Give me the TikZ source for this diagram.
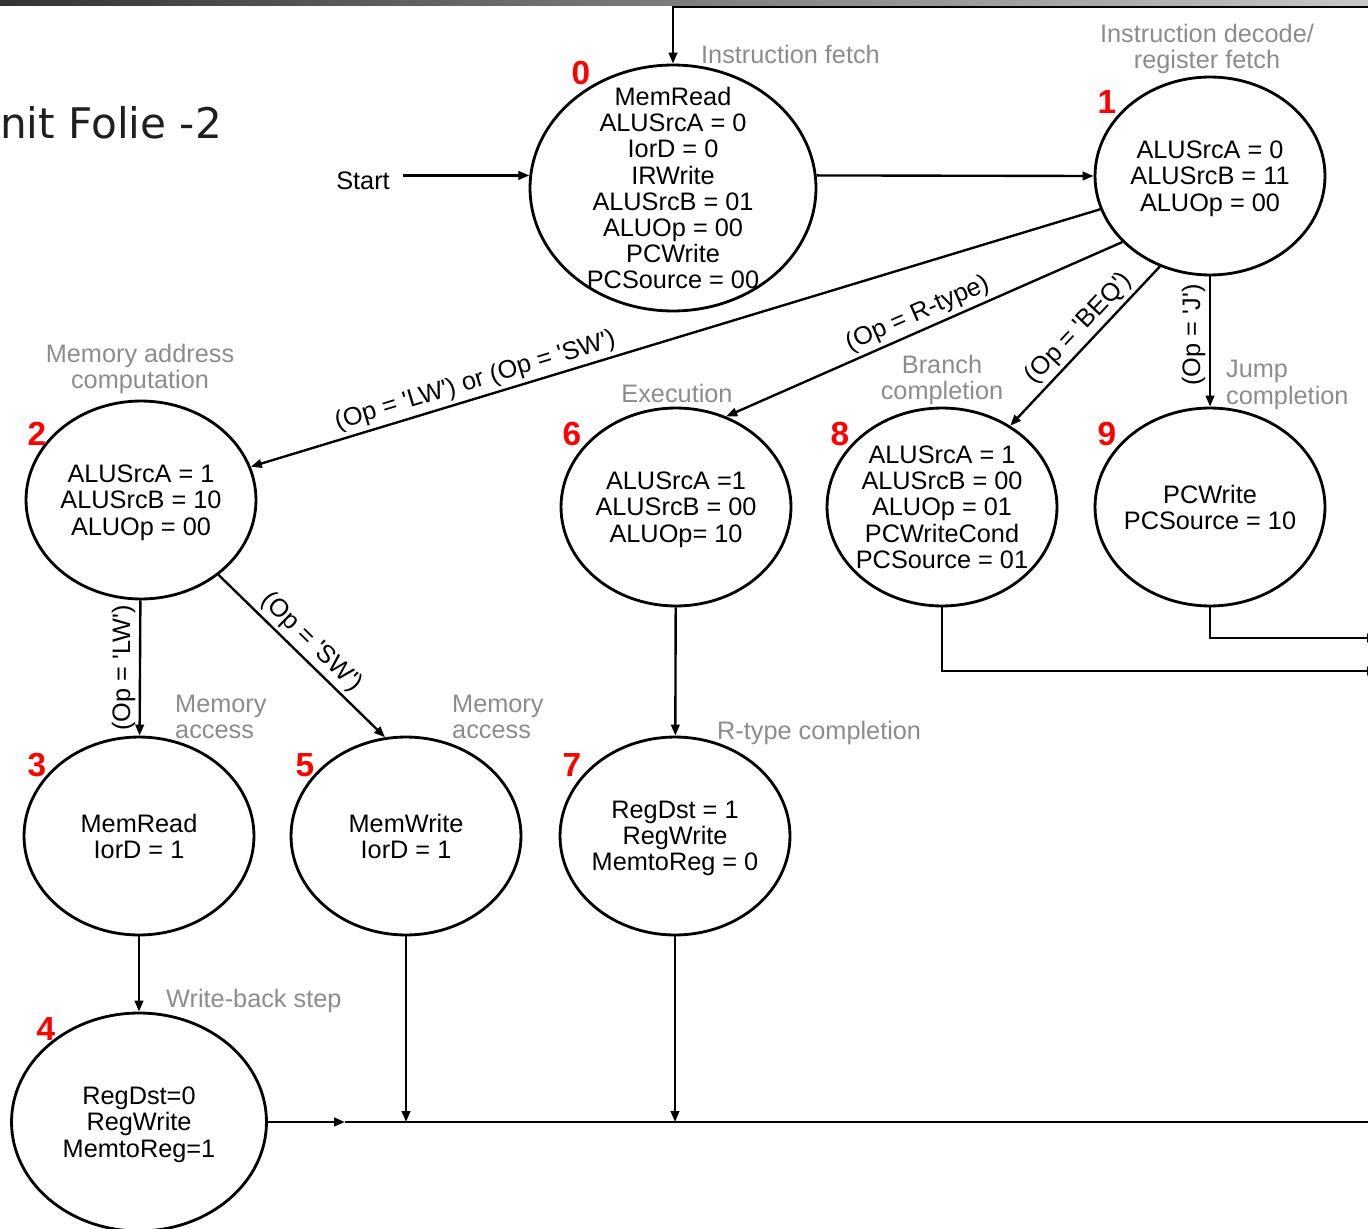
\documentclass[tikz,border=0pt]{standalone}
\usepackage{fontspec}
\setmainfont{Liberation Sans}
\newfontfamily\titlefont{DejaVu Sans}
\usetikzlibrary{arrows.meta,shapes.geometric}
\tikzset{
  fsm/.style={x=0.02cm, y=-0.02cm, >={Triangle[length=2.2mm,width=1.7mm]}, line width=1.35pt,
              font=\fontsize{14.4}{14.9}\selectfont},
  st/.style={draw, ellipse, line width=1.6pt, inner sep=-12pt, text depth=-2pt, align=center,
             minimum width=4.6cm, minimum height=3.96cm},
  num/.style={text=red, inner sep=0pt, font=\fontsize{19}{19}\selectfont\bfseries},
  phase/.style={text=black!45, align=center, inner sep=0pt},
  cond/.style={sloped, above, inner sep=2pt}
}
\newcommand{\tq}{\textquotesingle}

\begin{document}
\begin{tikzpicture}[fsm]
\useasboundingbox (0,0) rectangle (1368,1229);
\fill[white] (0,0) rectangle (1368,1229);
\shade[left color=black!80, right color=black!22] (0,0) rectangle (1368,6);
\node[anchor=base west, inner sep=0pt, text=black!88, font=\titlefont\fontsize{24}{24}\selectfont] (title) at (-1,139) {nit Folie -2};

% states
\node[st, minimum width=5.72cm, minimum height=4.92cm] (s0) at (673,188)
  {MemRead\\ALUSrcA = 0\\IorD = 0\\IRWrite\\ALUSrcB = 01\\ALUOp = 00\\PCWrite\\PCSource = 00};
\node[st, text depth=-4pt] (s1) at (1210,176) {ALUSrcA = 0\\ALUSrcB = 11\\ALUOp = 00};
\node[st, text depth=-6.5pt] (s2) at (141,500) {ALUSrcA = 1\\ALUSrcB = 10\\ALUOp = 00};
\node[st, text depth=-7.5pt] (s6) at (676,507) {ALUSrcA =1\\ALUSrcB = 00\\ALUOp= 10};
\node[st] (s8) at (942,507) {ALUSrcA = 1\\ALUSrcB = 00\\ALUOp = 01\\PCWriteCond\\PCSource = 01};
\node[st] (s9) at (1210,507) {PCWrite\\PCSource = 10};
\node[st, text depth=-8.5pt] (s3) at (139,836) {MemRead\\IorD = 1};
\node[st, text depth=-8.5pt] (s5) at (406,836) {MemWrite\\IorD = 1};
\node[st, text depth=-4pt] (s7) at (675,836) {RegDst = 1\\RegWrite\\MemtoReg = 0};
\node[st, minimum width=5.1cm, minimum height=4.36cm] (s4) at (139,1122) {RegDst=0\\RegWrite\\MemtoReg=1};

% state numbers
\foreach \k/\px/\py in {0/581/73, 1/1107/102, 2/37/434, 6/572/434, 8/840/434,
                        9/1107/434, 3/37/765, 5/305/765, 7/572/765, 4/46/1029}
  \node[num] (n\k) at (\px,\py) {\k};

% phase captions
\node[phase, anchor=west] (pFetch) at (700,54) {Instruction fetch};
\node[phase] (pDecode) at (1207,49) {Instruction decode/\\register fetch};
\node[phase] (pAddr) at (140,369) {Memory address\\computation};
\node[phase] (pExec) at (677,393) {Execution};
\node[phase] (pBranch) at (942,380) {Branch\\completion};
\node[phase, anchor=west, align=left] (pJump) at (1225,385) {Jump\\completion};
\node[phase, anchor=west, align=left] (pMemA) at (174,717) {Memory\\access};
\node[phase, anchor=west, align=left] (pMemB) at (451,717) {Memory\\access};
\node[phase, anchor=west] (pRtype) at (716,733) {R-type completion};
\node[phase, anchor=west] (pWB) at (165,1001) {Write-back step};

\node[inner xsep=7pt] (start) at (363,181) {Start};

% free ends at the right border
\coordinate (rT) at (1395,7);
\coordinate (r9) at (1378,638);
\coordinate (r8) at (1378,671);
\coordinate (bM) at (345,1122);
\coordinate (bR) at (1395,1122);

% transitions
\draw[->] (start.east |- s0.175) -- (s0.175);
\draw[->] (s0.5) -- (s1.west);
\draw[->] (rT) -| (s0);
\draw[->] (s1) -- node[cond, pos=0.73] {(Op = \tq LW\tq) or (Op = \tq SW\tq)} (s2);
\draw[->] (s1.217.5) -- node[cond, pos=0.5] {(Op = R-type)} (s6.61.5);
\draw[->] (s1.241.5) -- node[cond, pos=0.46] {(Op = \tq BEQ\tq)} (s8.50.7);
\draw[->] (s1) -- node[pos=0.45, rotate=90, anchor=south, inner sep=2pt] {(Op = \tq J\tq)} (s9);
\draw[->] (s2) -- node[pos=0.5, rotate=90, anchor=south, inner sep=2pt] {(Op = \tq LW\tq)} (s3);
\draw[->] (s2.-44.2) -- node[cond, pos=0.49] {(Op = \tq SW\tq)} (s5.102.2);
\draw[->] (s6) -- (s7);
\draw[->] (s3) -- (s4);
\draw[->] (s8) |- (r8);
\draw[->] (s9) |- (r9);
\draw[->] (s4.east) -- (bM);
\draw (bM) -- (bR);
\draw[->] (s5) -- (s5 |- bM);
\draw[->] (s7) -- (s7 |- bM);
\end{tikzpicture}
\end{document}
